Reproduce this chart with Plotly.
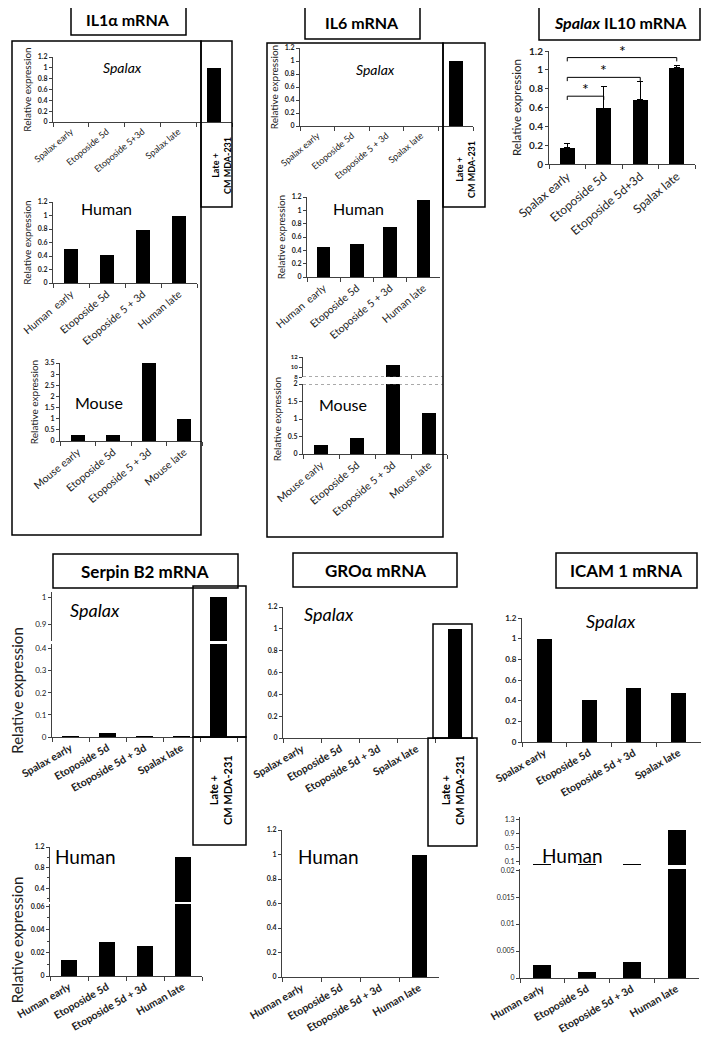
import plotly.graph_objects as go

W, H = 709, 1045
PAD = 8  # page margin around the plot div
FW, FH = W - 2 * PAD, H - 2 * PAD
FONT = "Lato"
AX = "#404040"

# IL1a
il1a_spalax_cats = ["Spalax early", "Etoposide 5d", "Etoposide 5+3d", "Spalax late", "Late + CM MDA-231"]
il1a_spalax_vals = [0, 0, 0, 0, 1.0]
il1a_human_cats = ["Human  early", "Etoposide 5d", "Etoposide 5 + 3d", "Human late"]
il1a_human_vals = [0.51, 0.41, 0.79, 1.0]
il1a_mouse_cats = ["Mouse early", "Etoposide 5d", "Etoposide 5 + 3d", "Mouse late"]
il1a_mouse_vals = [0.25, 0.28, 3.5, 1.0]

# IL6
il6_spalax_cats = ["Spalax early", "Etoposide 5d", "Etoposide 5 + 3d", "Spalax late", "Late + CM MDA-231"]
il6_spalax_vals = [0, 0, 0, 0, 1.0]
il6_human_cats = ["Human  early", "Etoposide 5d", "Etoposide 5 + 3d", "Human late"]
il6_human_vals = [0.45, 0.5, 0.75, 1.16]
il6_mouse_cats = ["Mouse early", "Etoposide 5d", "Etoposide 5 + 3d", "Mouse late"]
il6_mouse_vals = [0.25, 0.45, 10.4, 1.16]

# Spalax IL10
il10_cats = ["Spalax early", "Etoposide 5d", "Etoposide 5d+3d", "Spalax late"]
il10_vals = [0.17, 0.59, 0.68, 1.02]
il10_err = [0.05, 0.23, 0.2, 0.03]
il10_sig = [(0, 1, 0.72), (0, 2, 0.92), (0, 3, 1.13)]

# Serpin B2
serpin_spalax_cats = ["Spalax early", "Etoposide 5d", "Etoposide 5d + 3d", "Spalax late", "Late + CM MDA-231"]
serpin_spalax_vals = [0.002, 0.018, 0.002, 0.003, 1.0]
serpin_human_cats = ["Human early", "Etoposide 5d", "Etoposide 5d + 3d", "Human late"]
serpin_human_vals = [0.014, 0.029, 0.026, 1.0]

# GROa
gro_spalax_cats = ["Spalax early", "Etoposide 5d", "Etoposide 5d + 3d", "Spalax late", "Late + CM MDA-231"]
gro_spalax_vals = [0, 0, 0, 0, 1.0]
gro_human_cats = ["Human early", "Etoposide 5d", "Etoposide 5d + 3d", "Human late"]
gro_human_vals = [0, 0, 0, 1.0]

# ICAM 1
icam_spalax_cats = ["Spalax early", "Etoposide 5d", "Etoposide 5d + 3d", "Spalax late"]
icam_spalax_vals = [1.0, 0.41, 0.52, 0.47]
icam_human_cats = ["Human early", "Etoposide 5d", "Etoposide 5d + 3d", "Human late"]
icam_human_vals = [0.0025, 0.0012, 0.003, 1.0]

fig = go.Figure()
count = [0]


def fx(x):
    return (x - PAD) / FW


def fy(y):
    return 1 - (y - PAD) / FH


def clamp(v):
    return min(1.0, max(0.0, v))


def add_panel(cats, vals, xpix, ypix, yrange, dtick=None, tickvals=None, minor=None,
              width=0.4, show_x=True, angle=-40, xfont=9, xbold=False, yfont=7,
              ybold=True, ytitle=None, ytitle_size=10, hide_last=False, err=None):
    count[0] += 1
    s = "" if count[0] == 1 else str(count[0])
    bar = go.Bar(x=cats, y=vals, width=width, marker_color="black", marker_line_width=0,
                 xaxis="x" + s, yaxis="y" + s, showlegend=False)
    if err is not None:
        bar.error_y = dict(type="data", array=err, arrayminus=[0] * len(err), symmetric=False,
                           color="black", thickness=1, width=3)
    fig.add_trace(bar)
    labels = list(cats)
    if hide_last:
        labels[-1] = ""
    xa = dict(domain=[clamp(fx(xpix[0])), clamp(fx(xpix[1]))], anchor="y" + s, type="category",
              tickson="boundaries", tickmode="array", tickvals=cats, ticktext=labels,
              showline=show_x, linecolor=AX, linewidth=1, ticks="outside" if show_x else "",
              ticklen=4, tickcolor=AX, showticklabels=show_x, tickangle=angle,
              tickfont=dict(family=FONT, size=xfont, color="#222",
                            weight="bold" if xbold else "normal"),
              showgrid=False, zeroline=False, fixedrange=True, automargin=False)
    ya = dict(domain=[clamp(fy(ypix[1])), clamp(fy(ypix[0]))], anchor="x" + s, range=yrange,
              showline=True, linecolor=AX, linewidth=1, ticks="outside", ticklen=3,
              tickcolor=AX, tickfont=dict(family=FONT, size=yfont, color="#222",
                                          weight="bold" if ybold else "normal"),
              showgrid=False, zeroline=False, fixedrange=True, automargin=False)
    if tickvals is not None:
        ya["tickmode"] = "array"
        ya["tickvals"] = tickvals
    elif dtick is not None:
        ya["dtick"] = dtick
        ya["tick0"] = 0
    if minor is not None:
        ya["minor"] = dict(tickvals=minor, ticks="outside", ticklen=2, tickcolor=AX)
    if ytitle:
        ya["title"] = dict(text=ytitle, font=dict(family=FONT, size=ytitle_size, color="#222"),
                           standoff=4)
    fig.update_layout(**{"xaxis" + s: xa, "yaxis" + s: ya})
    return s


# top row
add_panel(il1a_spalax_cats, il1a_spalax_vals, (53, 232), (57, 122), [0, 1.2], dtick=0.2,
          hide_last=True, ytitle="Relative expression")
add_panel(il1a_human_cats, il1a_human_vals, (53, 197), (202, 283), [0, 1.2], dtick=0.2,
          xfont=10.5, ytitle="Relative expression")
add_panel(il1a_mouse_cats, il1a_mouse_vals, (60, 202), (363, 441), [0, 3.5], dtick=0.5,
          xfont=10.5, ytitle="Relative expression")

add_panel(il6_spalax_cats, il6_spalax_vals, (300, 473), (48, 126), [0, 1.2], dtick=0.2,
          hide_last=True, ytitle="Relative expression")
add_panel(il6_human_cats, il6_human_vals, (307, 440), (197, 277), [0, 1.2], dtick=0.2,
          xfont=10.5, ytitle="Relative expression")
up6 = add_panel(il6_mouse_cats, il6_mouse_vals, (303, 447), (357, 377), [8, 12],
                tickvals=[8, 10, 12], show_x=False, yfont=6)
lo6 = add_panel(il6_mouse_cats, il6_mouse_vals, (303, 447), (384, 454), [0, 2], dtick=0.5,
                xfont=10.5, ytitle="Relative expression")

il10 = add_panel(il10_cats, il10_vals, (549, 695), (51, 164), [0, 1.2], dtick=0.2,
                 width=0.42, angle=-40, xfont=12, yfont=10, ytitle="Relative expression",
                 ytitle_size=11.5, err=il10_err)

# bottom row
add_panel(serpin_spalax_cats, serpin_spalax_vals, (52, 237), (592, 641), [0.84, 1.02],
          tickvals=[0.9, 1], show_x=False, yfont=8, ybold=False, width=0.48)
add_panel(serpin_spalax_cats, serpin_spalax_vals, (52, 237), (644, 737), [0, 0.42],
          tickvals=[0, 0.1, 0.2, 0.3, 0.4], angle=-30, xfont=10.5, xbold=True, yfont=8,
          ybold=False, width=0.48, hide_last=True)
add_panel(serpin_human_cats, serpin_human_vals, (50, 202), (847, 902), [0.13, 1.2],
          tickvals=[0.4, 0.8, 1.2], minor=[0.2, 0.6, 1.0], show_x=False)
add_panel(serpin_human_cats, serpin_human_vals, (50, 202), (904, 976), [0, 0.062],
          tickvals=[0, 0.02, 0.04, 0.06], minor=[0.01, 0.03, 0.05], angle=-30, xfont=10.5,
          xbold=True)

add_panel(gro_spalax_cats, gro_spalax_vals, (283, 474), (607, 738), [0, 1.2], dtick=0.2,
          angle=-30, xfont=10.5, xbold=True, hide_last=True, width=0.37)
add_panel(gro_human_cats, gro_human_vals, (282, 439), (830, 977), [0, 1.2], dtick=0.2,
          angle=-30, xfont=10.5, xbold=True, width=0.37)

add_panel(icam_spalax_cats, icam_spalax_vals, (522, 701), (618, 742), [0, 1.2], dtick=0.2,
          angle=-30, xfont=10.5, xbold=True, yfont=8, width=0.33)
add_panel(icam_human_cats, icam_human_vals, (520, 699), (817, 865), [0.0, 1.36],
          tickvals=[0.1, 0.5, 0.9, 1.3], show_x=False, ybold=False)
add_panel(icam_human_cats, icam_human_vals, (520, 699), (869, 978), [0, 0.0202],
          tickvals=[0, 0.005, 0.01, 0.015, 0.02], angle=-30, xfont=10.5, xbold=True,
          ybold=False)

# y axis titles for Serpin B2
fig.update_layout(
    yaxis10=dict(title=dict(text="Relative expression", font=dict(family=FONT, size=15, color="#222"),
                            standoff=8)),
    yaxis12=dict(title=dict(text="Relative expression", font=dict(family=FONT, size=15, color="#222"),
                            standoff=8)),
)

# significance brackets on IL10
shapes = []
annotations = []
for i, j, lvl in il10_sig:
    fig.add_trace(go.Scatter(x=[il10_cats[i], il10_cats[i], il10_cats[j], il10_cats[j]],
                             y=[lvl - 0.04, lvl, lvl, lvl - 0.04], mode="lines",
                             line=dict(color="black", width=1), showlegend=False,
                             xaxis="x" + il10, yaxis="y" + il10, hoverinfo="skip"))
    annotations.append(dict(x=(i + j) / 2, y=lvl, xref="x" + il10, yref="y" + il10, text="*",
                            showarrow=False, yanchor="bottom", yshift=-4,
                            font=dict(family=FONT, size=16, color="black")))

# broken axis markers on IL6 mouse
for ax, val in ((up6, 8), (lo6, 2)):
    shapes.append(dict(type="line", xref="x" + ax + " domain", yref="y" + ax, x0=0, x1=0.97,
                       y0=val, y1=val, line=dict(color="#555", width=1, dash="dot")))


def rect(x0, y0, x1, y1, w=1.5):
    shapes.append(dict(type="rect", xref="paper", yref="paper", x0=fx(x0), y0=fy(y1),
                       x1=fx(x1), y1=fy(y0), line=dict(color="black", width=w),
                       fillcolor="rgba(0,0,0,0)"))


def text(x, y, t, size, bold=False, italic=False, angle=0):
    if italic:
        t = "<i>" + t + "</i>"
    annotations.append(dict(x=fx(x), y=fy(y), xref="paper", yref="paper", text=t,
                            showarrow=False, xanchor="center", yanchor="middle",
                            textangle=angle,
                            font=dict(family=FONT, size=size, color="black",
                                      weight="bold" if bold else "normal")))


# frames
rect(71, 2, 186, 35)
rect(12, 41, 201, 535)
rect(201, 41, 232, 207)
rect(305, 5, 420, 39)
rect(267, 43, 443, 537)
rect(443, 43, 485, 207)
rect(539, 5, 700, 40)
rect(53, 554, 238, 588)
rect(193, 586, 246, 737)
rect(193, 737, 246, 845)
rect(293, 553, 457, 587)
rect(433, 624, 472, 738)
rect(428, 738, 477, 846)
rect(556, 553, 697, 588)

# labels
text(128, 19, "IL1α mRNA", 16, bold=True)
text(362, 22, "IL6 mRNA", 16, bold=True)
text(620, 22, "<i>Spalax</i> IL10 mRNA", 16, bold=True)
text(145, 571, "Serpin B2 mRNA", 17, bold=True)
text(375, 570, "GROα mRNA", 17, bold=True)
text(626, 570, "ICAM 1 mRNA", 17, bold=True)

text(122, 68, "Spalax", 14, italic=True)
text(375, 69, "Spalax", 14, italic=True)
text(95, 610, "Spalax", 18, italic=True)
text(329, 614, "Spalax", 18, italic=True)
text(611, 621, "Spalax", 18, italic=True)

text(106, 208, "Human", 16)
text(358, 209, "Human", 16)
text(85, 856, "Human", 19)
text(328, 856, "Human", 19)
text(572, 855, "Human", 19)
text(99, 402, "Mouse", 16)
text(343, 405, "Mouse", 16)

text(222, 166, "Late +<br>CM MDA-231", 9, bold=True, angle=-90)
text(466, 170, "Late +<br>CM MDA-231", 9, bold=True, angle=-90)
text(220, 790, "Late +<br>CM MDA-231", 11, bold=True, angle=-90)
text(452, 790, "Late +<br>CM MDA-231", 11, bold=True, angle=-90)

fig.update_layout(width=FW, height=FH, margin=dict(l=0, r=0, t=0, b=0, autoexpand=False),
                  paper_bgcolor="white", plot_bgcolor="white", showlegend=False,
                  shapes=shapes, annotations=annotations, bargap=0,
                  font=dict(family=FONT, color="#222"))

fig.write_html("out.html")
